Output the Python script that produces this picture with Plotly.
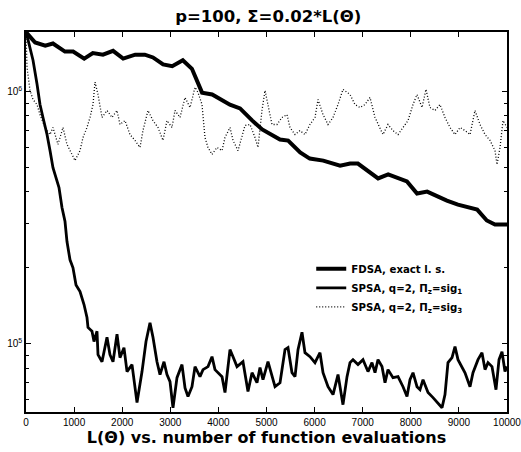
import plotly.graph_objects as go

# ---- data ----
fdsa_evals = [0, 190, 400, 560, 810, 980, 1210, 1390, 1600, 1810, 2020, 2270, 2470, 2640,
              2850, 3040, 3260, 3450, 3660, 3870, 4240, 4450, 4700, 4910, 5280, 5450, 5700,
              5900, 6180, 6530, 6740, 6900, 7320, 7530, 7920, 8130, 8340, 8750, 8980, 9380,
              9580, 9750, 10000]
fdsa_loss = [1.72e6, 1.565e6, 1.52e6, 1.55e6, 1.44e6, 1.44e6, 1.35e6, 1.42e6, 1.40e6, 1.45e6,
             1.35e6, 1.40e6, 1.40e6, 1.365e6, 1.28e6, 1.26e6, 1.33e6, 1.23e6, 9.9e5, 9.73e5,
             8.87e5, 8.57e5, 7.68e5, 7.07e5, 6.45e5, 6.39e5, 5.73e5, 5.42e5, 5.32e5, 5.08e5,
             5.18e5, 5.18e5, 4.52e5, 4.69e5, 4.40e5, 3.94e5, 4.01e5, 3.69e5, 3.56e5, 3.40e5,
             3.08e5, 2.97e5, 2.97e5]

sig1_evals = [0, 83, 146, 229, 291, 353, 437, 499, 561, 603, 686, 748, 811, 852, 915, 977,
              1040, 1123, 1206, 1268, 1289, 1372, 1414, 1476, 1497, 1580, 1642, 1684, 1746,
              1809, 1892, 1954, 2037, 2100, 2204, 2308, 2412, 2495, 2578, 2640, 2723, 2786,
              2869, 2931, 2994, 3056, 3139, 3243, 3306, 3368, 3451, 3514, 3617, 3680, 3784,
              3867, 3929, 3992, 4075, 4137, 4241, 4304, 4387, 4511, 4615, 4699, 4802, 4865,
              4927, 5031, 5114, 5177, 5281, 5385, 5447, 5530, 5593, 5655, 5738, 5800, 5904,
              6008, 6112, 6175, 6279, 6383, 6487, 6528, 6590, 6674, 6736, 6798, 6902, 7006,
              7110, 7193, 7256, 7318, 7401, 7464, 7526, 7630, 7734, 7838, 7921, 7983, 8046,
              8129, 8191, 8254, 8358, 8462, 8565, 8649, 8711, 8773, 8857, 8919, 8981, 9064,
              9127, 9231, 9293, 9397, 9480, 9543, 9605, 9688, 9771, 9834, 9896, 9958, 10000]
sig1_loss = [1.73e6, 1.50e6, 1.33e6, 1.07e6, 8.88e5, 7.89e5, 6.75e5, 5.83e5, 4.99e5, 4.69e5,
             4.16e5, 3.47e5, 3.05e5, 2.54e5, 2.15e5, 2.00e5, 1.71e5, 1.61e5, 1.43e5, 1.27e5,
             1.16e5, 1.12e5, 1.02e5, 1.12e5, 9.04e4, 8.48e4, 9.64e4, 1.06e5, 9.04e4, 8.48e4,
             1.09e5, 8.80e4, 9.64e4, 7.75e4, 8.26e4, 5.84e4, 7.75e4, 1.02e5, 1.21e5, 1.06e5,
             8.48e4, 7.54e4, 8.48e4, 7.54e4, 7.07e4, 5.57e4, 7.33e4, 8.26e4, 6.68e4, 6.17e4,
             6.75e4, 8.11e4, 7.40e4, 7.89e4, 8.11e4, 8.88e4, 7.89e4, 7.67e4, 7.40e4, 6.40e4,
             9.47e4, 8.88e4, 8.11e4, 8.48e4, 6.46e4, 7.67e4, 7.00e4, 8.04e4, 7.20e4, 8.48e4,
             7.40e4, 6.75e4, 7.00e4, 9.47e4, 9.64e4, 7.67e4, 7.40e4, 9.47e4, 1.11e5, 9.21e4,
             8.88e4, 8.41e4, 9.21e4, 7.67e4, 6.75e4, 6.28e4, 7.54e4, 6.75e4, 5.73e4, 7.40e4,
             8.41e4, 8.64e4, 8.26e4, 8.64e4, 7.75e4, 8.41e4, 7.67e4, 8.64e4, 8.11e4, 7.00e4,
             7.89e4, 7.33e4, 7.40e4, 6.75e4, 6.17e4, 7.20e4, 7.67e4, 6.75e4, 6.57e4, 7.20e4,
             6.40e4, 6.11e4, 5.83e4, 5.57e4, 6.28e4, 8.41e4, 8.80e4, 9.73e4, 8.64e4, 8.11e4,
             7.67e4, 6.75e4, 7.67e4, 8.64e4, 9.21e4, 7.89e4, 8.41e4, 8.11e4, 6.57e4, 8.64e4,
             9.29e4, 7.75e4, 8.11e4]

sig3_evals = [0, 21, 83, 146, 229, 291, 395, 499, 561, 665, 769, 852, 956, 1019, 1123, 1185,
              1268, 1331, 1393, 1435, 1497, 1580, 1684, 1788, 1892, 1954, 2058, 2162, 2266,
              2370, 2432, 2536, 2640, 2744, 2848, 2931, 3035, 3098, 3202, 3306, 3410, 3514,
              3576, 3659, 3721, 3784, 3867, 3971, 4075, 4137, 4241, 4304, 4408, 4491, 4553,
              4657, 4761, 4823, 4906, 4969, 5031, 5114, 5218, 5322, 5426, 5488, 5593, 5696,
              5800, 5904, 6008, 6071, 6175, 6279, 6383, 6487, 6590, 6694, 6736, 6840, 6944,
              7048, 7152, 7256, 7318, 7422, 7526, 7630, 7734, 7838, 7942, 8046, 8129, 8233,
              8316, 8399, 8503, 8607, 8711, 8815, 8919, 9023, 9127, 9231, 9335, 9439, 9543,
              9647, 9751, 9792, 9855, 9917, 10000]
sig3_loss = [1.71e6, 1.25e6, 1.01e6, 9.29e5, 8.88e5, 8.10e5, 7.20e5, 6.75e5, 7.20e5, 6.17e5,
             7.20e5, 6.17e5, 5.63e5, 5.32e5, 5.83e5, 6.57e5, 7.20e5, 7.89e5, 8.88e5, 1.09e6,
             9.73e5, 7.89e5, 8.41e5, 7.89e5, 8.41e5, 7.40e5, 7.67e5, 6.75e5, 6.40e5, 6.00e5,
             7.00e5, 8.41e5, 7.67e5, 7.20e5, 6.40e5, 7.67e5, 7.20e5, 8.41e5, 7.89e5, 9.47e5,
             8.64e5, 1.04e6, 9.91e5, 8.88e5, 6.57e5, 6.00e5, 5.63e5, 6.00e5, 5.83e5, 6.57e5,
             7.20e5, 6.40e5, 5.83e5, 6.57e5, 7.33e5, 7.40e5, 6.57e5, 6.00e5, 8.41e5, 1.01e6,
             8.88e5, 7.40e5, 7.40e5, 7.89e5, 8.10e5, 7.20e5, 6.75e5, 7.00e5, 6.75e5, 7.40e5,
             7.89e5, 9.29e5, 8.10e5, 7.40e5, 7.89e5, 8.88e5, 1.02e6, 9.91e5, 9.73e5, 8.88e5,
             8.64e5, 8.88e5, 9.47e5, 7.89e5, 7.40e5, 6.75e5, 7.40e5, 7.00e5, 6.75e5, 7.20e5,
             7.67e5, 8.88e5, 9.73e5, 8.64e5, 1.02e6, 8.64e5, 8.41e5, 8.88e5, 7.89e5, 7.20e5,
             6.75e5, 7.20e5, 7.00e5, 6.75e5, 8.41e5, 7.40e5, 6.75e5, 6.40e5, 5.83e5, 5.13e5,
             6.00e5, 7.67e5, 7.20e5]

series_names = ["FDSA, exact l. s.",
                "SPSA, q=2, \u03a0<sub>z</sub>=sig<sub>1</sub>",
                "SPSA, q=2, \u03a0<sub>z</sub>=sig<sub>3</sub>"]

x_ticks = [0, 1000, 2000, 3000, 4000, 5000, 6000, 7000, 8000, 9000, 10000]
x_tick_text = ["0", "1000", "2000", "3000", "4000", "5000", "6000", "7000", "8000", "9000", "10000"]
y_ticks = [1e5, 1e6]
y_tick_text = ["10<sup>5</sup>", "10<sup>6</sup>"]
y_minor = [6e4, 7e4, 8e4, 9e4, 2e5, 3e5, 4e5, 5e5, 6e5, 7e5, 8e5, 9e5]

title_text = "p=100, \u03a3=0.02*L(\u0398)"
xlabel_text = "L(\u0398) vs. number of function evaluations"

FONT = "Liberation Sans, Arial, Helvetica, sans-serif"
BOLD = "DejaVu Sans, Liberation Sans, Arial, sans-serif"
DOTS = "1px,2px"

fig = go.Figure()
fig.add_trace(go.Scatter(x=sig3_evals, y=sig3_loss, mode="lines", name=series_names[2],
                         line=dict(color="black", width=1.3, dash=DOTS), showlegend=False))
fig.add_trace(go.Scatter(x=sig1_evals, y=sig1_loss, mode="lines", name=series_names[1],
                         line=dict(color="black", width=2.8), showlegend=False))
fig.add_trace(go.Scatter(x=fdsa_evals, y=fdsa_loss, mode="lines", name=series_names[0],
                         line=dict(color="black", width=4), showlegend=False))
# legend entries in the original order
fig.add_trace(go.Scatter(x=[None], y=[None], mode="lines", name=series_names[0],
                         line=dict(color="black", width=4)))
fig.add_trace(go.Scatter(x=[None], y=[None], mode="lines", name=series_names[1],
                         line=dict(color="black", width=2.8)))
fig.add_trace(go.Scatter(x=[None], y=[None], mode="lines", name=series_names[2],
                         line=dict(color="black", width=1.3, dash=DOTS)))

fig.update_layout(
    width=521, height=452,
    margin=dict(l=26, r=14, t=32, b=40, autoexpand=False),
    paper_bgcolor="white", plot_bgcolor="white",
    font=dict(family=FONT, color="black", size=10),
    title=dict(text=title_text, x=0.515, xanchor="center", y=0.964, yanchor="middle",
               font=dict(family=BOLD, size=16.5, color="black", weight="bold")),
    showlegend=True,
    legend=dict(x=0.593, y=0.415, xanchor="left", yanchor="top",
                bgcolor="rgba(0,0,0,0)", borderwidth=0,
                font=dict(family=BOLD, size=10.2, color="black", weight="bold"),
                tracegroupgap=0, itemwidth=30),
)

fig.update_xaxes(
    range=[0, 10000], tickvals=x_ticks, ticktext=x_tick_text, ticks="inside", ticklen=5,
    tickwidth=1, tickcolor="black", showline=True, linecolor="black", linewidth=1.5,
    mirror="ticks", showgrid=False, zeroline=False, tickfont=dict(size=10, family=FONT),
    ticklabeloverflow="allow", automargin=False,
    title=dict(text=xlabel_text, standoff=3,
               font=dict(family=BOLD, size=16, color="black", weight="bold")),
)
fig.update_yaxes(
    type="log", range=[4.729, 6.236], tickvals=y_ticks, ticktext=y_tick_text,
    ticks="inside", ticklen=5, tickwidth=1, tickcolor="black",
    showline=True, linecolor="black", linewidth=1.5, mirror="ticks", automargin=False,
    showgrid=False, zeroline=False, tickfont=dict(size=10, family=FONT),
    minor=dict(tickvals=y_minor, ticks="inside", ticklen=3, tickcolor="black", showgrid=False),
)

fig.write_html("out.html")
